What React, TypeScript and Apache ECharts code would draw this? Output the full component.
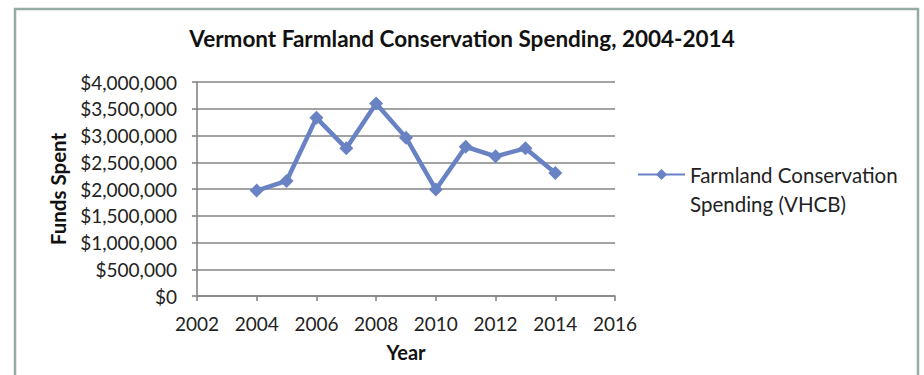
import React, { useEffect, useRef } from "react";
import * as echarts from "echarts";

const years = [2004, 2005, 2006, 2007, 2008, 2009, 2010, 2011, 2012, 2013, 2014];
const spending = [1970000, 2150000, 3330000, 2760000, 3600000, 2960000, 1990000, 2790000, 2610000, 2760000, 2300000];
const seriesName = "Farmland Conservation Spending (VHCB)";
const legendLines = ["Farmland Conservation", "Spending (VHCB)"];
const titleText = "Vermont Farmland Conservation Spending, 2004-2014";
const xAxisName = "Year";
const yAxisName = "Funds Spent";

const FONT = "Lato";
const BLUE = "#6882c3";
const GRID = "#858585";

export default function App() {
  const ref = useRef<HTMLDivElement>(null);
  useEffect(() => {
    if (!ref.current) return;
    const chart = echarts.init(ref.current, undefined, { renderer: "svg" });
    const data = years.map((y, i) => [y, spending[i]]);
    chart.setOption({
      animation: false,
      backgroundColor: "#ffffff",
      textStyle: { fontFamily: FONT },
      title: {
        text: titleText,
        left: "center",
        top: 27,
        padding: 0,
        textStyle: { fontFamily: FONT, fontWeight: "bold", fontSize: 22.5, color: "#111" },
      },
      graphic: [
        {
          type: "rect",
          shape: { x: 15, y: 9, width: 903, height: 420 },
          style: { fill: "none", stroke: "#97aba5", lineWidth: 2.5 },
          silent: true,
        },
      ],
      legend: {
        left: 637,
        top: 131,
        padding: 0,
        itemWidth: 47,
        itemHeight: 14,
        data: [{ name: seriesName }],
        formatter: () => "\n" + legendLines.join("\n"),
        textStyle: {
          fontFamily: FONT,
          fontSize: 20.5,
          color: "#222",
          lineHeight: 29,
        },
      },
      grid: { left: 197, right: 309, top: 82, bottom: 79, containLabel: false },
      xAxis: {
        type: "value",
        min: 2002,
        max: 2016,
        interval: 2,
        name: xAxisName,
        nameLocation: "middle",
        nameGap: 46,
        nameTextStyle: { fontFamily: FONT, fontWeight: "bold", fontSize: 20, color: "#111" },
        axisLine: { show: true, lineStyle: { color: GRID, width: 1.6 } },
        axisTick: { show: true, inside: false, length: 5, lineStyle: { color: GRID, width: 1.6 } },
        axisLabel: {
          fontFamily: FONT,
          fontSize: 19,
          color: "#222",
          margin: 18,
          formatter: (v: number) => String(v),
        },
        splitLine: { show: false },
      },
      yAxis: {
        type: "value",
        min: 0,
        max: 4000000,
        interval: 500000,
        name: yAxisName,
        nameLocation: "middle",
        nameRotate: 90,
        nameGap: 129,
        nameTextStyle: { fontFamily: FONT, fontWeight: "bold", fontSize: 20.5, color: "#111" },
        axisLine: { show: true, lineStyle: { color: GRID, width: 1.6 } },
        axisTick: { show: true, inside: false, length: 5, lineStyle: { color: GRID, width: 1.6 } },
        axisLabel: {
          fontFamily: FONT,
          fontSize: 19,
          color: "#222",
          margin: 20,
          formatter: (v: number) => "$" + v.toLocaleString("en-US"),
        },
        splitLine: { show: true, lineStyle: { color: GRID, width: 1.6 } },
      },
      series: [
        {
          name: seriesName,
          type: "line",
          data,
          color: BLUE,
          lineStyle: { width: 4.5, color: BLUE },
          symbol: "diamond",
          symbolSize: 14,
          itemStyle: { color: BLUE },
        },
      ],
    });
    return () => chart.dispose();
  }, []);
  return (
    <div
      ref={ref}
      style={{ position: "fixed", left: 0, top: 0, width: 924, height: 375 }}
    />
  );
}
